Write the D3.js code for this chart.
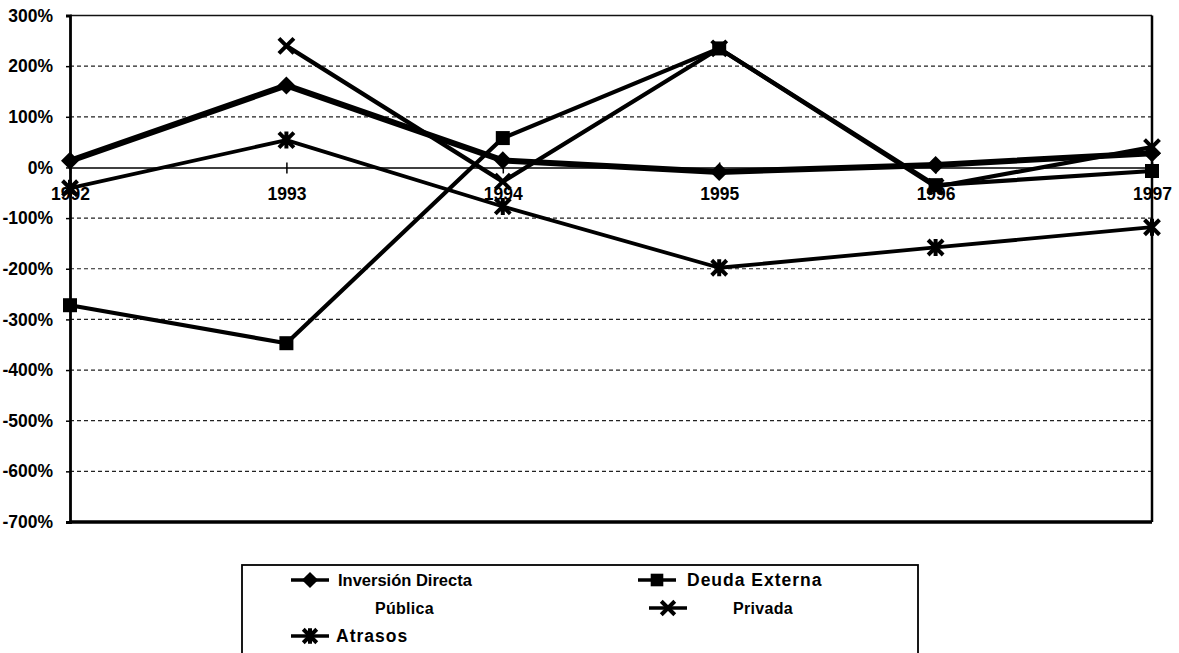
<!DOCTYPE html>
<html>
<head>
<meta charset="utf-8">
<script src="https://cdn.jsdelivr.net/npm/d3@7"></script>
<style>
  html, body { margin: 0; padding: 0; background: #fff; }
  svg { display: block; font-family: "Liberation Sans", Arial, sans-serif; }
</style>
</head>
<body>
<svg id="chart" width="1179" height="653"></svg>
<script>
// ---- data ----
const years = ["1992", "1993", "1994", "1995", "1996", "1997"];
const yTicks = [300, 200, 100, 0, -100, -200, -300, -400, -500, -600, -700];
const inversionDirecta = [13, 162, 14, -9, 5, 28];
const deudaPublica = [-272, -347, 58, 235, -35, -7];
const deudaPrivada = [null, 240, -28, 235, -38, 40];
const atrasos = [-41, 54, -77, -198, -158, -118];

const seriesNames = ["Inversión Directa", "Deuda Externa Pública", "Privada", "Atrasos"];
const seriesValues = [inversionDirecta, deudaPublica, deudaPrivada, atrasos];
const seriesMarkers = ["diamond", "square", "cross", "asterisk"];
const seriesWidths = [6, 4.2, 4.2, 3.8];

// ---- layout ----
const svg = d3.select("#chart");
const pLeft = 70, pRight = 1152, pTop = 15.5, pBottom = 522;

const x = d3.scalePoint().domain(years).range([pLeft, pRight]);
const y = d3.scaleLinear().domain([-700, 300]).range([pBottom, pTop]);

// gridlines (dashed)
svg.append("g").selectAll("line")
  .data(yTicks.filter(t => t !== 0 && t !== 300 && t !== -700))
  .join("line")
  .attr("x1", pLeft).attr("x2", pRight)
  .attr("y1", d => y(d)).attr("y2", d => y(d))
  .attr("stroke", "#222").attr("stroke-width", 1.2)
  .attr("stroke-dasharray", "4,3");

// frame
svg.append("line").attr("x1", pLeft).attr("x2", pRight).attr("y1", pTop).attr("y2", pTop)
  .attr("stroke", "#111").attr("stroke-width", 1.5);
svg.append("line").attr("x1", pLeft).attr("x2", pRight).attr("y1", pBottom).attr("y2", pBottom)
  .attr("stroke", "#000").attr("stroke-width", 3.5);
svg.append("line").attr("x1", pRight).attr("x2", pRight).attr("y1", pTop).attr("y2", pBottom)
  .attr("stroke", "#000").attr("stroke-width", 2.5);

// y axis
const yAxis = d3.axisLeft(y).tickValues(yTicks).tickFormat(d => d + "%").tickSize(4).tickPadding(13);
const gy = svg.append("g").attr("transform", `translate(${pLeft},0)`).call(yAxis);
gy.select(".domain").attr("stroke", "#000").attr("stroke-width", 2.8);
gy.selectAll(".tick line").attr("stroke", "#000").attr("stroke-width", 1.5);
gy.selectAll("text").attr("font-size", 17.5).attr("font-weight", "bold").attr("fill", "#000")
  .attr("font-family", "Liberation Sans, Arial, sans-serif");

// x axis along 0%
const xAxis = d3.axisBottom(x).tickSizeInner(6).tickSizeOuter(0).tickPadding(14);
const gx = svg.append("g").attr("transform", `translate(0,${y(0)})`).call(xAxis);
gx.select(".domain").attr("stroke", "#000").attr("stroke-width", 1.5);
gx.selectAll(".tick line").attr("y1", -5).attr("y2", 6).attr("stroke", "#000").attr("stroke-width", 1.5);
gx.selectAll("text").attr("font-size", 17.5).attr("font-weight", "bold").attr("fill", "#000")
  .attr("font-family", "Liberation Sans, Arial, sans-serif");

// marker drawing
function drawMarker(g, type, cx, cy, s) {
  s = s || 1;
  if (type === "diamond") {
    const r = 9 * s;
    g.append("path").attr("d", `M${cx},${cy - r}L${cx + r},${cy}L${cx},${cy + r}L${cx - r},${cy}Z`).attr("fill", "#000");
  } else if (type === "square") {
    const r = 7 * s;
    g.append("rect").attr("x", cx - r).attr("y", cy - r).attr("width", 2 * r).attr("height", 2 * r).attr("fill", "#000");
  } else if (type === "cross") {
    const r = 7.5 * s;
    g.append("path").attr("d", `M${cx - r},${cy - r}L${cx + r},${cy + r}M${cx - r},${cy + r}L${cx + r},${cy - r}`)
      .attr("stroke", "#000").attr("stroke-width", 4).attr("fill", "none");
  } else if (type === "asterisk") {
    const r = 7.5 * s;
    g.append("path").attr("d", `M${cx - r},${cy - r}L${cx + r},${cy + r}M${cx - r},${cy + r}L${cx + r},${cy - r}M${cx},${cy - r - 1}L${cx},${cy + r + 1}`)
      .attr("stroke", "#000").attr("stroke-width", 4).attr("fill", "none");
  }
}

// series
const line = d3.line().defined(d => d.v !== null).x(d => x(d.year)).y(d => y(d.v));
seriesValues.forEach((vals, i) => {
  const pts = years.map((yr, j) => ({ year: yr, v: vals[j] }));
  const g = svg.append("g");
  g.append("path").datum(pts).attr("d", line)
    .attr("fill", "none").attr("stroke", "#000").attr("stroke-width", seriesWidths[i])
    .attr("stroke-linejoin", "round");
  pts.filter(p => p.v !== null).forEach(p => drawMarker(g, seriesMarkers[i], x(p.year), y(p.v)));
});

// legend
const lg = svg.append("g");
lg.append("rect").attr("x", 242).attr("y", 565).attr("width", 676).attr("height", 110)
  .attr("fill", "#fff").attr("stroke", "#000").attr("stroke-width", 1.8);

const legendItems = [
  { idx: 0, mx: 310, my: 580, tx: 338, ty: 586, text: "Inversión Directa", fs: 16.5, ls: 0 },
  { idx: 1, mx: 657, my: 580, tx: 687, ty: 586, text: "Deuda Externa", fs: 17.5, ls: 1 },
  { idx: -1, tx: 375, ty: 614, text: "Pública", fs: 16, ls: 0.3 },
  { idx: 2, mx: 668, my: 608, tx: 733, ty: 614, text: "Privada", fs: 16, ls: 0.3 },
  { idx: 3, mx: 310, my: 636, tx: 336, ty: 642, text: "Atrasos", fs: 17.5, ls: 1 }
];
legendItems.forEach(it => {
  if (it.idx >= 0) {
    lg.append("line").attr("x1", it.mx - 19).attr("x2", it.mx + 19).attr("y1", it.my).attr("y2", it.my)
      .attr("stroke", "#000").attr("stroke-width", 3.5);
    drawMarker(lg, seriesMarkers[it.idx], it.mx, it.my, 0.9);
  }
  lg.append("text").attr("x", it.tx).attr("y", it.ty).text(it.text)
    .attr("font-size", it.fs).attr("font-weight", "bold").attr("letter-spacing", it.ls).attr("fill", "#000");
});
</script>
</body>
</html>
